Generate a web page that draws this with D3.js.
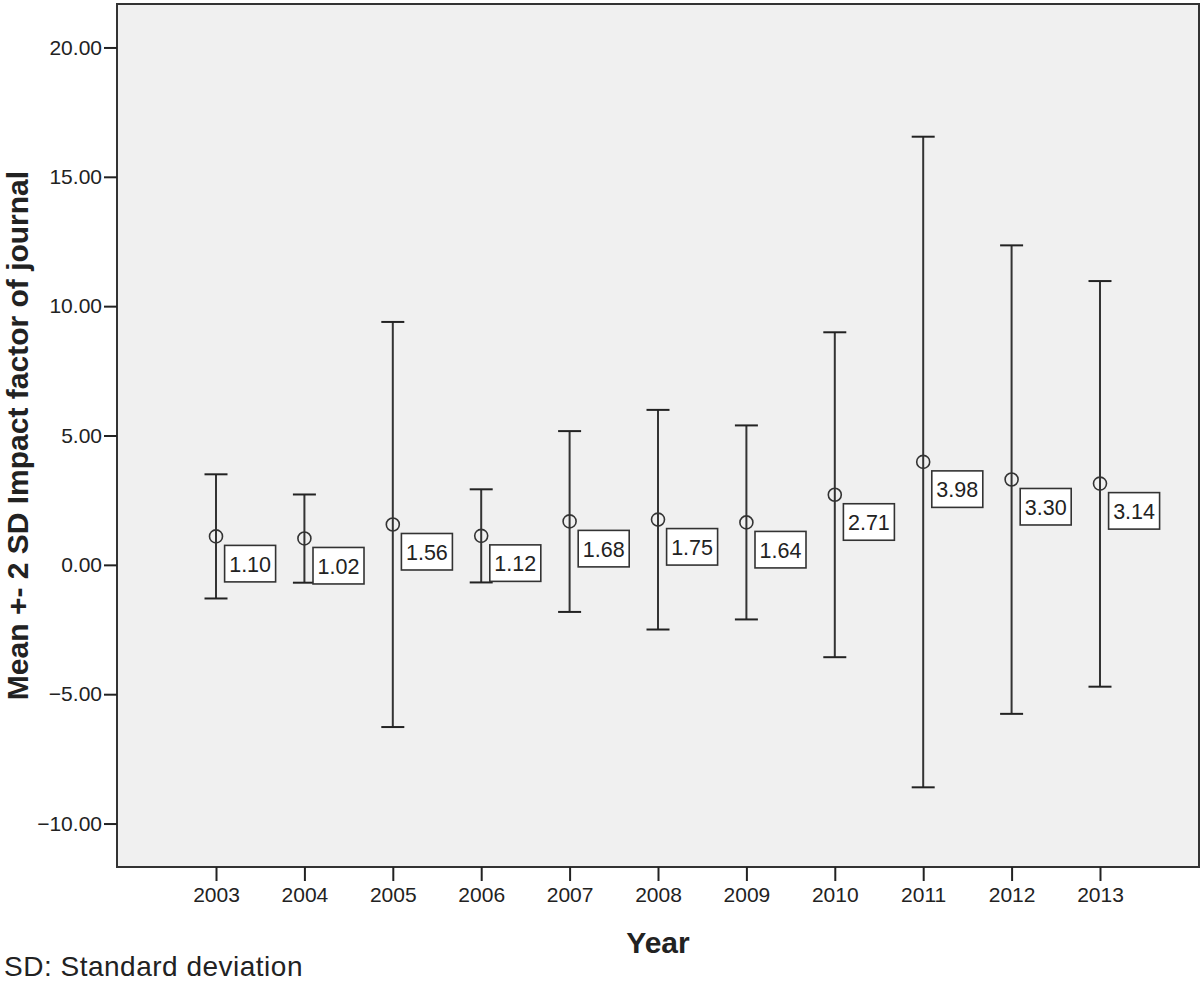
<!DOCTYPE html>
<html>
<head>
<meta charset="utf-8">
<script src="https://cdn.jsdelivr.net/npm/d3@7"></script>
<style>
  html, body { margin: 0; padding: 0; background: #fff; }
  svg { display: block; }
  text { font-family: Arial, "Liberation Sans", sans-serif; fill: #222; }
</style>
</head>
<body>
<svg id="chart" width="1202" height="983"></svg>
<script>
const years = [2003, 2004, 2005, 2006, 2007, 2008, 2009, 2010, 2011, 2012, 2013];
const means = [1.10, 1.02, 1.56, 1.12, 1.68, 1.75, 1.64, 2.71, 3.98, 3.30, 3.14];
const upper = [3.50, 2.72, 9.39, 2.92, 5.17, 5.99, 5.39, 8.99, 16.55, 12.35, 10.97];
const lower = [-1.30, -0.69, -6.27, -0.68, -1.82, -2.50, -2.11, -3.57, -8.60, -5.76, -4.71];
const yTicks = [-10, -5, 0, 5, 10, 15, 20];

const svg = d3.select("#chart");
const pL = 117, pR = 1199, pT = 4, pB = 867;

const x = d3.scaleLinear().domain([2001.88, 2014.12]).range([pL, pR]);
const y = d3.scaleLinear().domain([-11.68, 21.68]).range([pB, pT]);

// plot background
svg.append("rect")
  .attr("x", pL).attr("y", pT)
  .attr("width", pR - pL).attr("height", pB - pT)
  .attr("fill", "#f0f0f0")
  .attr("stroke", "#333").attr("stroke-width", 2);

// y axis
const yAxis = svg.append("g")
  .attr("transform", `translate(${pL},0)`)
  .call(d3.axisLeft(y).tickValues(yTicks).tickFormat(d3.format(".2f")).tickSize(13).tickPadding(2));
yAxis.select(".domain").remove();
yAxis.selectAll(".tick line").attr("stroke", "#222").attr("stroke-width", 2);
yAxis.selectAll(".tick text").attr("font-size", 21).attr("fill", "#222")
  .attr("font-family", "Arial, 'Liberation Sans', sans-serif");

// x axis
const xAxis = svg.append("g")
  .attr("transform", `translate(0,${pB})`)
  .call(d3.axisBottom(x).tickValues(years).tickFormat(d3.format("d")).tickSize(14).tickPadding(6));
xAxis.select(".domain").remove();
xAxis.selectAll(".tick line").attr("stroke", "#222").attr("stroke-width", 2);
xAxis.selectAll(".tick text").attr("font-size", 21).attr("fill", "#222")
  .attr("font-family", "Arial, 'Liberation Sans', sans-serif");

const data = years.map((yr, i) => ({ yr, m: means[i], hi: upper[i], lo: lower[i] }));

const g = svg.append("g");
const capW = 11.5;

// error bar stems
g.selectAll("line.stem").data(data).enter().append("line")
  .attr("class", "stem")
  .attr("x1", d => x(d.yr)).attr("x2", d => x(d.yr))
  .attr("y1", d => y(d.hi)).attr("y2", d => y(d.lo))
  .attr("stroke", "#333").attr("stroke-width", 2);

g.selectAll("line.capt").data(data).enter().append("line")
  .attr("x1", d => x(d.yr) - capW).attr("x2", d => x(d.yr) + capW)
  .attr("y1", d => y(d.hi)).attr("y2", d => y(d.hi))
  .attr("stroke", "#222").attr("stroke-width", 2);

g.selectAll("line.capb").data(data).enter().append("line")
  .attr("x1", d => x(d.yr) - capW).attr("x2", d => x(d.yr) + capW)
  .attr("y1", d => y(d.lo)).attr("y2", d => y(d.lo))
  .attr("stroke", "#222").attr("stroke-width", 2);

// mean markers
g.selectAll("circle").data(data).enter().append("circle")
  .attr("cx", d => x(d.yr)).attr("cy", d => y(d.m))
  .attr("r", 6.5)
  .attr("fill", "none").attr("stroke", "#333").attr("stroke-width", 1.6);

// value labels
const lab = g.selectAll("g.lab").data(data).enter().append("g")
  .attr("transform", d => `translate(${x(d.yr) + 8.6},${y(d.m) + 9})`);
lab.append("rect")
  .attr("x", 0).attr("y", 0).attr("width", 51).attr("height", 36.5)
  .attr("fill", "#fff").attr("stroke", "#333").attr("stroke-width", 1.6);
lab.append("text")
  .attr("x", 25.5).attr("y", 26.5)
  .attr("text-anchor", "middle")
  .attr("font-size", 21.5)
  .text(d => d.m.toFixed(2));

// axis titles
svg.append("text")
  .attr("transform", `translate(28,${(pT + pB) / 2}) rotate(-90)`)
  .attr("text-anchor", "middle")
  .attr("font-size", 30).attr("font-weight", "bold")
  .text("Mean +- 2 SD Impact factor of journal");

svg.append("text")
  .attr("x", (pL + pR) / 2).attr("y", 953)
  .attr("text-anchor", "middle")
  .attr("font-size", 30).attr("font-weight", "bold")
  .text("Year");

svg.append("text")
  .attr("x", 4).attr("y", 976)
  .attr("font-size", 28)
  .attr("letter-spacing", 0.5)
  .text("SD: Standard deviation");
</script>
</body>
</html>
